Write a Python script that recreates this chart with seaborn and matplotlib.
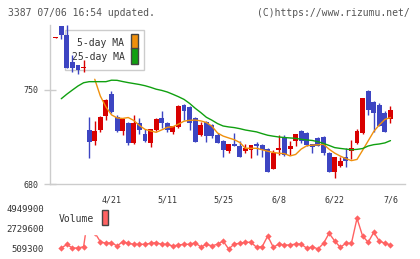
import numpy as np
import pandas as pd
import matplotlib
matplotlib.use("Agg")
import matplotlib.pyplot as plt
import seaborn as sns
from matplotlib.patches import Patch, Rectangle
from matplotlib.legend_handler import HandlerPatch

sns.set_style("white")
plt.rcParams['font.family'] = ['DejaVu Sans Mono']

# ---------------- data ----------------
opens = [788.4, 797.7, 791.0, 771.0, 768.6, 766.2, 720.2, 712.3, 720.2, 730.9,
         747.0, 729.9, 719.5, 725.4, 710.5, 725.4, 717.2, 710.5, 720.2, 729.2,
         725.4, 718.7, 722.7, 738.8, 737.6, 729.4, 716.5, 726.4, 723.9, 716.5,
         712.3, 704.8, 709.8, 708.3, 704.8, 705.3, 709.8, 709.0, 706.1, 691.2,
         705.3, 715.0, 706.1, 712.0, 719.5, 718.0, 709.8, 714.3, 715.0, 703.0,
         689.2, 693.4, 699.9, 704.8, 710.3, 717.8, 749.3, 741.0, 738.8, 733.1,
         728.2]
closes = [789.1, 791.0, 766.6, 766.6, 764.9, 767.4, 711.5, 719.5, 729.9, 742.6,
          733.8, 719.5, 728.4, 710.5, 725.4, 720.2, 712.0, 721.0, 728.4, 725.4,
          720.2, 723.2, 738.3, 734.6, 725.7, 711.5, 723.9, 716.0, 716.0, 710.8,
          705.3, 709.8, 708.3, 700.3, 706.6, 709.0, 708.3, 705.3, 689.2, 703.3,
          706.8, 701.6, 708.3, 717.2, 712.0, 709.0, 707.6, 708.3, 703.3, 689.2,
          700.0, 697.1, 697.1, 706.6, 719.5, 743.8, 735.1, 732.7, 723.4, 719.0,
          735.1]
highs = [789.1, 797.7, 798.4, 776.0, 768.6, 772.3, 729.9, 726.9, 730.5, 743.0,
         749.3, 731.4, 728.8, 726.2, 731.4, 729.2, 721.0, 721.3, 729.0, 734.4,
         726.0, 723.5, 739.0, 739.5, 738.0, 730.1, 726.4, 727.0, 724.5, 718.2,
         712.8, 710.0, 718.2, 712.3, 709.8, 709.3, 711.3, 709.5, 707.0, 705.3,
         716.5, 716.5, 712.0, 717.5, 720.0, 718.5, 710.0, 715.0, 715.5, 703.5,
         700.3, 699.9, 706.6, 712.8, 721.0, 744.0, 750.0, 741.5, 740.5, 734.4,
         738.0]
lows = [788.4, 788.0, 766.4, 763.6, 761.7, 763.6, 699.6, 709.0, 718.7, 727.7,
        733.0, 719.0, 716.5, 709.0, 709.8, 717.2, 711.3, 707.6, 719.5, 721.7,
        718.7, 717.2, 722.0, 727.7, 720.2, 711.0, 716.0, 711.5, 714.0, 710.5,
        700.3, 702.9, 708.0, 700.0, 703.3, 699.6, 701.6, 700.3, 689.0, 691.0,
        701.6, 701.0, 701.6, 708.3, 710.5, 708.5, 703.3, 708.0, 701.6, 689.0,
        684.3, 692.5, 692.9, 698.6, 710.0, 717.5, 731.4, 719.0, 723.0, 718.7,
        725.7]
ma5 = [np.nan] * 7 + [
    758.0, 745.5, 737.4, 731.5, 729.2, 728.8, 729.5, 727.3, 723.6, 720.7,
    719.5, 718.5, 720.3, 722.2, 722.6, 724.6, 726.8, 727.4, 727.6, 727.0,
    725.8, 723.0, 718.0, 715.7, 714.3, 713.0, 710.9, 706.6, 706.6, 706.6,
    705.5, 704.4, 703.5, 702.9, 702.6, 700.9, 702.0, 706.0, 708.5, 708.9,
    709.2, 709.6, 705.9, 703.0, 700.8, 698.9, 697.4, 698.3, 705.1, 712.1,
    719.1, 724.0, 728.1, 729.5]
ma25 = [np.nan,
        743.5, 746.9, 750.0, 753.0, 755.4, 756.2, 756.2, 756.2, 756.2, 757.3,
        757.2, 756.3, 755.5, 754.8, 754.1, 753.2, 752.0, 750.6, 749.7, 748.5,
        746.8, 745.0, 743.0, 740.0, 736.4, 733.2, 729.7, 727.5, 725.0, 723.2,
        722.5, 722.0, 721.2, 720.2, 719.5, 718.8, 717.5, 716.3, 715.6, 715.0,
        714.6, 714.3, 714.0, 713.3, 712.8, 712.4, 711.5, 710.2, 708.7, 707.1,
        706.5, 706.0, 705.5, 705.8, 706.4, 708.3, 709.3, 709.8, 710.6, 712.3]
volume = [np.nan,
          620000, 1009000, 620000, 620000, 765000, 4949900, 2330000, 1320000, 1142000, 1209000,
          842000, 1320000, 1142000, 1031000, 1031000, 1031000, 1142000, 1209000, 1031000, 1031000,
          842000, 953000, 1031000, 1031000, 1209000, 731000, 1009000, 870000, 1031000, 1397000,
          509300, 1064000, 1142000, 1253000, 1253000, 698000, 765000, 1953000, 698000, 1064000,
          953000, 953000, 1064000, 1064000, 587000, 765000, 509300, 1142000, 2252000, 1397000,
          698000, 1142000, 1142000, 3917000, 1953000, 1253000, 2363000, 1397000, 1142000, 953000]
date_labels = ["4/21", "5/11", "5/25", "6/8", "6/22", "7/6"]
date_pos = [10, 20, 30, 40, 50, 60]
price_ticks = [680, 750]
vol_ticks = [509300, 2729600, 4949900]
vol_tick_labels = ["509300", "2729600", "4949900"]

UP, DOWN = "#d80000", "#3d45c2"
C_MA5, C_MA25, C_VOL = "#f0900c", "#10a010", "#ff6262"
TXT = "#333333"

# ---------------- figure ----------------
W, H = 420, 259
fig = plt.figure(figsize=(W / 100, H / 100), dpi=100)
fig.patch.set_facecolor("white")


def rect(l, t, r, b):
    return [l / W, 1 - b / H, (r - l) / W, (b - t) / H]


def full_rect(legend, orig_handle, xdescent, ydescent, width, height, fontsize):
    return Rectangle((-xdescent, -ydescent), width, height + ydescent)


hmap = {Patch: HandlerPatch(patch_func=full_rect)}

ax = fig.add_axes(rect(50, 25, 405, 184))
vax = fig.add_axes(rect(50, 204, 405, 254))

idx = np.arange(len(opens))
o = np.array(opens); c = np.array(closes)
hi = np.array(highs); lo = np.array(lows)
up = c >= o
cols = np.where(up, UP, DOWN)
body_bottom = np.minimum(o, c)
body_h = np.maximum(np.abs(c - o), 0.7)

ax.vlines(idx, lo, hi, colors=cols, lw=1, zorder=3)
ax.bar(idx, body_h, bottom=body_bottom, width=0.88, color=cols, lw=0, zorder=4)

df = pd.DataFrame({"i": idx, "ma5": ma5, "ma25": ma25, "vol": volume})
sns.lineplot(data=df, x="i", y="ma5", ax=ax, color=C_MA5, lw=1, zorder=5)
sns.lineplot(data=df, x="i", y="ma25", ax=ax, color=C_MA25, lw=1, zorder=5)

xmin, xmax = -1.02, 62.6
ax.set_xlim(xmin, xmax)
ax.set_ylim(680, 798.4)
for s in ["top", "right"]:
    ax.spines[s].set_visible(False)
for s in ["left", "bottom"]:
    ax.spines[s].set_color("#cccccc")
    ax.spines[s].set_linewidth(1)

ax.set_xticks(np.linspace(xmin, xmax, 12), minor=True)
ax.set_xticks(date_pos)
ax.set_xticklabels(date_labels)
ax.tick_params(axis="x", which="minor", direction="inout", length=9, width=1, color="#cccccc")
ax.tick_params(axis="x", which="major", length=0, pad=8.5, labelsize=6, labelcolor=TXT)
ax.set_yticks(price_ticks)
ax.set_yticklabels([str(v) for v in price_ticks])
ax.tick_params(axis="y", direction="inout", length=8, width=1, color="#cccccc",
               pad=4.3, labelsize=6, labelcolor=TXT, left=True)
ax.set_xlabel(""); ax.set_ylabel("")

leg = ax.legend(handles=[Patch(facecolor=C_MA5, edgecolor="#444444", label="5-day MA"),
                         Patch(facecolor=C_MA25, edgecolor="#444444", label="25-day MA")],
                handler_map=hmap,
                loc="upper left", bbox_to_anchor=(15 / 355, 1 - 5 / 159), borderaxespad=0,
                fontsize=7, markerfirst=False, handlelength=0.62, handleheight=1.6,
                labelspacing=0.2, handletextpad=0.72, borderpad=0.68,
                fancybox=False, framealpha=1, edgecolor="#cccccc", facecolor="white")
for t in leg.get_texts():
    t.set_color(TXT)
leg.set_zorder(1)

# ---------------- volume ----------------
sns.lineplot(data=df, x="i", y="vol", ax=vax, color=C_VOL, lw=1, marker="D",
             markersize=3.2, markeredgewidth=0, zorder=3)
vax.set_xlim(xmin, xmax)
per_px = (vol_ticks[2] - vol_ticks[0]) / 40.0
vax.set_ylim(vol_ticks[0] - 5 * per_px, vol_ticks[2] + 5 * per_px)
for s in vax.spines.values():
    s.set_visible(False)
vax.set_xticks([])
vax.set_yticks(vol_ticks)
vax.set_yticklabels(vol_tick_labels)
vax.tick_params(axis="y", length=0, pad=4.3, labelsize=6.5, labelcolor=TXT)
vax.set_xlabel(""); vax.set_ylabel("")
vleg = vax.legend(handles=[Patch(facecolor=C_VOL, edgecolor="#444444", label="Volume")],
                  handler_map=hmap,
                  loc="upper left", bbox_to_anchor=(0, 1), borderaxespad=0,
                  fontsize=7, markerfirst=False, handlelength=0.6, handleheight=1.54,
                  handletextpad=0.8, borderpad=0.9, fancybox=False, framealpha=1,
                  edgecolor="white", facecolor="white")
for t in vleg.get_texts():
    t.set_color(TXT)
vleg.set_zorder(10)

# ---------------- header texts ----------------
fig.text(8 / W, 1 - 12.5 / H, "3387 07/06 16:54 updated.", ha="left", va="center",
         fontsize=7, color="#555555")
fig.text(410 / W, 1 - 12.5 / H, "(C)https://www.rizumu.net/", ha="right", va="center",
         fontsize=7, color="#555555")

fig.savefig("out.png", dpi=100, facecolor="white")
